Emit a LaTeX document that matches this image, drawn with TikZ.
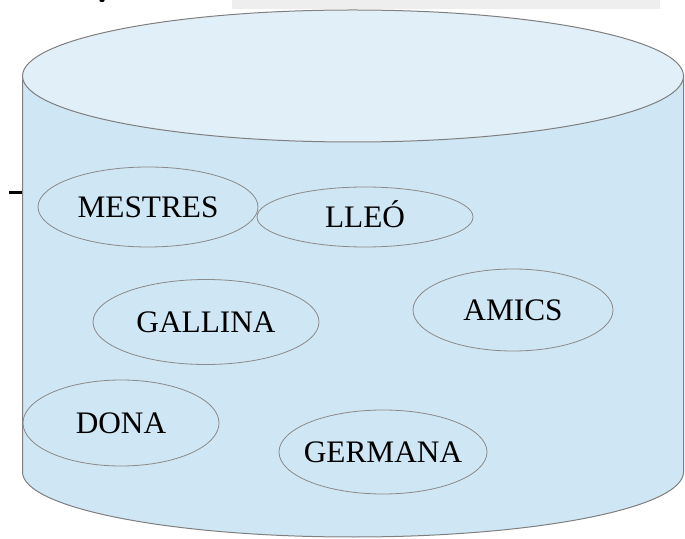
\documentclass[tikz,border=0pt]{standalone}
\usepackage{fontspec}
\setmainfont{Liberation Serif}
\usetikzlibrary{shapes.geometric}
\definecolor{bodyblue}{HTML}{CFE6F4}
\definecolor{topblue}{HTML}{E1EFF9}
\definecolor{rimgrey}{HTML}{7F7F7F}
\definecolor{ovalgrey}{HTML}{8A8A8A}
\definecolor{bargrey}{HTML}{EEEEEE}
\tikzset{
  oval/.style={ellipse, draw=ovalgrey, line width=0.8pt, inner sep=0pt},
  lbl/.style={font=\fontsize{31.3}{36}\selectfont, text=black, inner sep=0pt,
              text height=20.7pt, text depth=0pt},
  rim/.style={draw=rimgrey, line width=1pt}
}
\begin{document}
\begin{tikzpicture}[x=1pt,y=1pt]
\useasboundingbox (0,0) rectangle (685,538);
% grey bar at top
\fill[bargrey] (232,529) rectangle (660,538);
% fragment of a letter at the top edge
\fill[black] (102,537.5) ellipse [x radius=2.6pt, y radius=1.6pt];
% dash on the left
\coordinate (dashA) at (9,345.5);
\coordinate (dashB) at (22,345.5);
\draw[line width=2.4pt] (dashA) -- (dashB);
% cylinder body
\path[rim, fill=bodyblue] (22.5,462) -- (22.5,66)
  arc [start angle=180, end angle=360, x radius=330.5pt, y radius=65pt]
  -- (683.5,462) -- cycle;
% cylinder top
\path[rim, fill=topblue] (353,462) ellipse [x radius=330.5pt, y radius=66pt];
% ovals
\node[oval, minimum width=220pt, minimum height=80pt, label={[lbl]center:MESTRES}] (mestres) at (148,331) {};
\node[oval, minimum width=216pt, minimum height=60pt, label={[lbl]center:LLEÓ}] (lleo) at (365,321) {};
\node[oval, minimum width=226pt, minimum height=85pt, label={[lbl]center:GALLINA}] (gallina) at (206,216) {};
\node[oval, minimum width=200pt, minimum height=82pt, label={[lbl]center:AMICS}] (amics) at (513,228) {};
\node[oval, minimum width=196pt, minimum height=86pt, label={[lbl]center:DONA}] (dona) at (121,115) {};
\node[oval, minimum width=208pt, minimum height=84pt, label={[lbl]center:GERMANA}] (germana) at (383,86) {};
\end{tikzpicture}
\end{document}
